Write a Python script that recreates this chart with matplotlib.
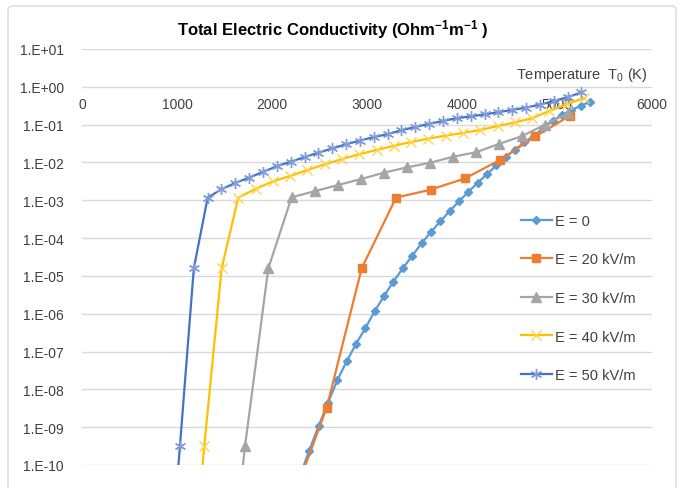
import matplotlib
matplotlib.use('Agg')
import matplotlib.pyplot as plt
import numpy as np
from matplotlib.patches import FancyBboxPatch
from matplotlib.ticker import FuncFormatter, NullLocator

plt.rcParams['font.family'] = ['Liberation Sans', 'DejaVu Sans']
plt.rcParams['mathtext.fontset'] = 'custom'
plt.rcParams['mathtext.rm'] = 'Liberation Sans'
plt.rcParams['mathtext.bf'] = 'Liberation Sans:bold'
plt.rcParams['mathtext.default'] = 'regular'

# temperature T0 (K) and log10 of conductivity (Ohm^-1 m^-1)
t_e0 = [2293, 2392, 2490, 2589, 2687, 2786, 2884, 2983, 3082, 3180, 3278,
        3377, 3475, 3574, 3672, 3771, 3869, 3968, 4066, 4165, 4263, 4362,
        4460, 4559, 4657, 4756, 4854, 4953, 5051, 5150, 5248, 5347]
log_e0 = [-10.3, -9.62, -8.97, -8.36, -7.76, -7.26, -6.80, -6.38, -5.93, -5.53,
          -5.15, -4.80, -4.47, -4.14, -3.84, -3.56, -3.29, -3.03, -2.78, -2.54,
          -2.31, -2.08, -1.86, -1.66, -1.47, -1.29, -1.10, -0.90, -0.74, -0.62,
          -0.50, -0.40]

t_e20 = [2206, 2575, 2944, 3306, 3669, 4034, 4402, 4772, 5141]
log_e20 = [-11.0, -8.49, -4.80, -2.93, -2.72, -2.42, -1.93, -1.31, -0.76]

t_e30 = [1470, 1716, 1961, 2207, 2449, 2691, 2935, 3178, 3420, 3662, 3904,
         4148, 4390, 4633, 4876, 5118]
log_e30 = [-15.0, -9.50, -4.80, -2.92, -2.76, -2.60, -2.44, -2.27, -2.13,
           -2.01, -1.85, -1.73, -1.51, -1.30, -1.00, -0.69]

t_e40 = [1105, 1287, 1470, 1645, 1827, 2009, 2191, 2373, 2555, 2737, 2919,
         3100, 3282, 3464, 3646, 3828, 4010, 4192, 4374, 4556, 4738, 4919,
         5101, 5283]
log_e40 = [-14.5, -9.50, -4.80, -2.93, -2.70, -2.50, -2.36, -2.20, -2.05,
           -1.91, -1.78, -1.67, -1.56, -1.46, -1.37, -1.29, -1.22, -1.14,
           -1.04, -0.94, -0.83, -0.64, -0.46, -0.30]

t_e50 = [885, 1031, 1177, 1323, 1468, 1614, 1760, 1905, 2051, 2197, 2343,
         2488, 2634, 2780, 2926, 3071, 3217, 3363, 3509, 3654, 3800, 3946,
         4091, 4237, 4383, 4529, 4674, 4820, 4966, 5111, 5257]
log_e50 = [-14.0, -9.50, -4.80, -2.93, -2.71, -2.54, -2.40, -2.25, -2.10,
           -1.98, -1.86, -1.74, -1.63, -1.52, -1.42, -1.33, -1.25, -1.15,
           -1.06, -0.98, -0.90, -0.83, -0.78, -0.73, -0.67, -0.61, -0.55,
           -0.47, -0.38, -0.27, -0.15]

labels = ['E = 0', 'E = 20 kV/m', 'E = 30 kV/m', 'E = 40 kV/m', 'E = 50 kV/m']
x_ticks = [0, 1000, 2000, 3000, 4000, 5000, 6000]
y_decades = list(range(-10, 2))

series = [
    (t_e0, log_e0, dict(color='#5B9BD5', marker='D', ms=4.5, mec='#5B9BD5')),
    (t_e20, log_e20, dict(color='#ED7D31', marker='s', ms=6, mec='#ED7D31')),
    (t_e30, log_e30, dict(color='#A5A5A5', marker='^', ms=6.5, mec='#A5A5A5')),
    (t_e40, log_e40, dict(color='#FFC000', marker='x', ms=7, mec='#FFD34F', mew=1)),
    (t_e50, log_e50, dict(color='#4472C4', marker=(6, 2, 0), ms=8, mec='#809CDB', mew=1)),
]

W, H = 680, 489
fig = plt.figure(figsize=(W / 100, H / 100), dpi=100)
ax = fig.add_axes([82 / W, 1 - 466 / H, (652 - 82) / W, (466 - 50) / H])

for (t, lg, style), lab in zip(series, labels):
    ax.plot(t, 10.0 ** np.array(lg), lw=1.6, label=lab, **style)

ax.set_yscale('log')
ax.set_ylim(1e-10, 1e1)
ax.set_xlim(0, 6000)
ax.set_yticks([10.0 ** k for k in y_decades])
ax.yaxis.set_minor_locator(NullLocator())
ax.yaxis.set_major_formatter(
    FuncFormatter(lambda v, p: '1.E{:+03d}'.format(int(round(np.log10(v))))))
ax.set_xticks(x_ticks)
ax.set_xticklabels([str(v) for v in x_ticks])
ax.set_ylim(1e-10, 1e1)

for s in ax.spines.values():
    s.set_visible(False)
ax.spines['bottom'].set_position(('data', 1.0))
ax.tick_params(axis='both', length=0, labelsize=10, labelcolor='#404040')
ax.tick_params(axis='y', pad=13)
ax.tick_params(axis='x', pad=7)
ax.yaxis.grid(True, color='#D9D9D9', lw=1)
ax.set_axisbelow(True)

fig.text(333 / W, 1 - 30 / H,
         r'Total Electric Conductivity (Ohm$\mathbf{^{-1}}$m$\mathbf{^{-1}}$ )',
         ha='center', va='center', fontsize=12, fontweight='bold', color='#000000')
fig.text(648 / W, 1 - 75 / H, r'Temperature  T$_0$ (K)',
         ha='right', va='center', fontsize=10.5, color='#404040')

ax.legend(loc='upper left', bbox_to_anchor=(521 / W, 1 - 215 / H),
          bbox_transform=fig.transFigure, frameon=False, fontsize=10.5,
          handlelength=2.1, handletextpad=0.2, labelspacing=1.68, borderpad=0,
          borderaxespad=0, labelcolor='#404040')

fig.patches.append(FancyBboxPatch((8 / W, -0.05), (676 - 8) / W, 1.05 - 7 / H,
                                  boxstyle='round,pad=0,rounding_size=0.008',
                                  transform=fig.transFigure, fill=False,
                                  ec='#D9D9D9', lw=1))

fig.savefig('out.png', dpi=100)
